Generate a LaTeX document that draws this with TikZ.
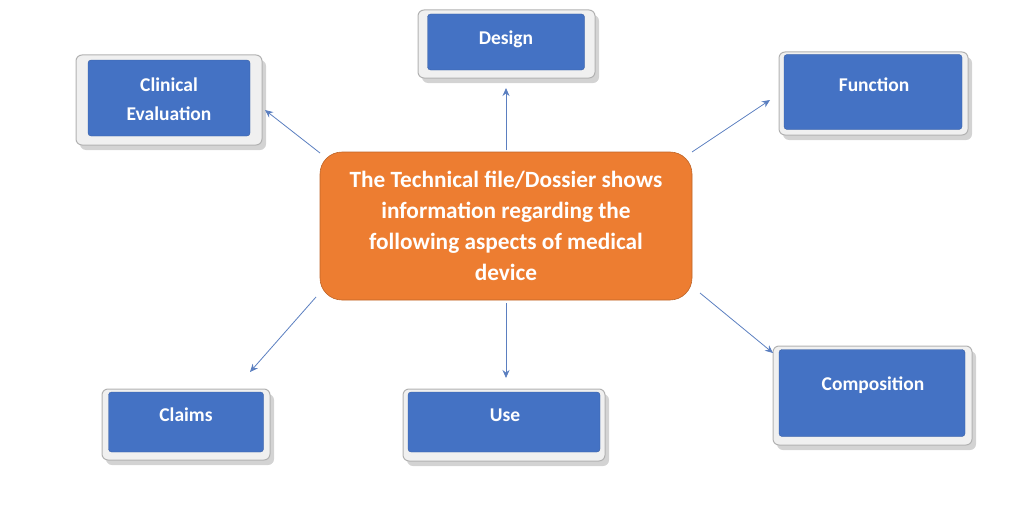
\documentclass[tikz,border=0pt]{standalone}
\usepackage{fontspec}
\setmainfont{Carlito}
\usetikzlibrary{shadows,arrows.meta}
\definecolor{bblue}{HTML}{4472C4}
\definecolor{orng}{HTML}{ED7D31}
\definecolor{arr}{HTML}{5B7FC0}
\tikzset{
  frame/.style={draw=gray!60,fill=gray!12,rounded corners=6pt,line width=1pt,drop shadow={shadow xshift=4pt,shadow yshift=-5pt,opacity=0.35,fill=gray}},
  bluebox/.style={fill=bblue,draw=bblue!80!black,line width=0.3pt,rounded corners=3pt},
  txt/.style={text=white,font=\bfseries\fontsize{19.5}{29}\selectfont,align=center},
  conn/.style={-{Stealth[length=8pt,width=7pt]},draw=arr,line width=0.8pt}
}
\begin{document}
\begin{tikzpicture}[x=1pt,y=1pt]
\useasboundingbox (0,0) rectangle (1024,-519);
% frames
\path[frame] (76,-55) rectangle (262,-145);
\path[frame] (418,-10) rectangle (595,-78);
\path[frame] (779,-52) rectangle (968,-135);
\path[frame] (773,-346) rectangle (972,-445);
\path[frame] (102,-389) rectangle (270,-460);
\path[frame] (403,-389) rectangle (605,-461);
% inner boxes
\node[bluebox,minimum width=162pt,minimum height=76pt] (clin) at (169,-98) {};
\node[bluebox,minimum width=157pt,minimum height=56pt] (des) at (506,-42) {};
\node[bluebox,minimum width=178pt,minimum height=75pt] (fun) at (873,-92) {};
\node[bluebox,minimum width=186pt,minimum height=87pt] (comp) at (872,-393) {};
\node[bluebox,minimum width=155pt,minimum height=60pt] (cla) at (186,-422) {};
\node[bluebox,minimum width=192pt,minimum height=60pt] (use) at (504,-422) {};
\node[txt] (clint) at (169,-99) {Clinical\\Evaluation};
\node[txt] (dest) at (506,-39) {Design};
\node[txt] (funt) at (874,-85) {Function};
\node[txt] (compt) at (873,-385) {Composition};
\node[txt] (clat) at (186,-415) {Claims};
\node[txt] (uset) at (505,-415) {Use};
% center
\node[fill=orng,draw=orng!80!black,line width=0.6pt,rounded corners=22pt,minimum width=372pt,minimum height=148pt,inner sep=0pt,text=white,align=center,font=\bfseries\fontsize{23.3}{31}\selectfont] (ctr) at (506,-226) {The Technical file/Dossier shows\\information regarding the\\following aspects of medical\\device};
% arrows
\coordinate (a1) at (320,-153); \coordinate (b1) at (265,-110);
\coordinate (a2) at (506,-150); \coordinate (b2) at (506,-88);
\coordinate (a3) at (692,-152); \coordinate (b3) at (770,-100);
\coordinate (a4) at (700,-293); \coordinate (b4) at (773,-353);
\coordinate (a5) at (506,-303); \coordinate (b5) at (506,-378);
\coordinate (a6) at (316,-297); \coordinate (b6) at (250,-372);
\foreach \i in {1,...,6} \draw[conn] (a\i) -- (b\i);
\end{tikzpicture}
\end{document}
